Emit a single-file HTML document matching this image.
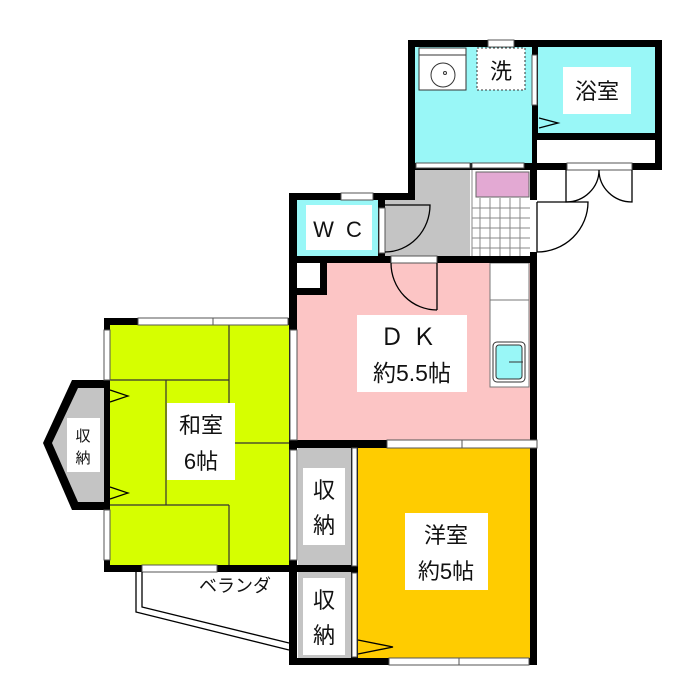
<!DOCTYPE html>
<html><head><meta charset="utf-8"><style>html,body{margin:0;padding:0;background:#fff}svg{display:block}text{font-family:"Liberation Sans","Noto Sans CJK JP",sans-serif;fill:#111}</style></head><body>
<svg width="700" height="700" viewBox="0 0 700 700" xmlns="http://www.w3.org/2000/svg">
<rect x="415" y="47" width="117" height="116" fill="#99f7f7"/>
<rect x="537" y="47" width="118" height="86" fill="#99f7f7"/>
<rect x="297" y="200" width="81" height="56" fill="#99f7f7"/>
<rect x="415" y="170" width="55" height="86" fill="#c4c4c4"/>
<rect x="385" y="198" width="85" height="58" fill="#c4c4c4"/>
<rect x="470" y="170" width="60" height="86" fill="#fff"/>
<g stroke="#888" stroke-width="1">
<line x1="480" y1="198" x2="480" y2="256"/><line x1="490" y1="198" x2="490" y2="256"/><line x1="500" y1="198" x2="500" y2="256"/><line x1="510" y1="198" x2="510" y2="256"/><line x1="520" y1="198" x2="520" y2="256"/>
<line x1="472" y1="208" x2="530" y2="208"/><line x1="472" y1="218" x2="530" y2="218"/><line x1="472" y1="228" x2="530" y2="228"/><line x1="472" y1="238" x2="530" y2="238"/><line x1="472" y1="248" x2="530" y2="248"/>
<line x1="472" y1="170" x2="472" y2="256"/>
</g>
<rect x="476" y="172" width="53" height="25" fill="#e3a9d3" stroke="#666"/>
<rect x="297" y="263" width="233" height="179" fill="#fcc5c5"/>
<rect x="297" y="263" width="25" height="27" fill="#fff"/>
<rect x="490" y="263" width="39" height="124" fill="#fff" stroke="#777"/>
<line x1="490" y1="300" x2="529" y2="300" stroke="#777"/>
<rect x="493" y="342" width="32" height="40" rx="4" fill="#fff" stroke="#333"/>
<rect x="496" y="345" width="26" height="34" rx="3" fill="#99f7f7" stroke="#333"/>
<line x1="509" y1="362" x2="523" y2="362" stroke="#333"/>
<rect x="110" y="325" width="180" height="240" fill="#d6ff00"/>
<g stroke="#333" stroke-width="1.2" fill="none">
<line x1="229" y1="325" x2="229" y2="443"/><line x1="229" y1="443" x2="290" y2="443"/>
<line x1="110" y1="380" x2="229" y2="380"/><line x1="166" y1="380" x2="166" y2="505"/>
<line x1="110" y1="505" x2="229" y2="505"/><line x1="229" y1="505" x2="229" y2="565"/>
</g>
<rect x="298" y="448" width="53" height="117" fill="#c4c4c4"/>
<rect x="298" y="572" width="53" height="86" fill="#c4c4c4"/>
<rect x="358" y="448" width="172" height="210" fill="#ffcc00"/>
<polygon points="72,380 110,380 110,510 72,510 43,443" fill="#000"/>
<polygon points="78,388 106,388 106,502 78,502 52,443" fill="#c4c4c4"/>
<g fill="#000">
<rect x="408" y="40" width="254" height="7"/>
<rect x="408" y="40" width="7" height="160"/>
<rect x="532" y="40" width="6" height="130"/>
<rect x="655" y="40" width="7" height="130"/>
<rect x="537" y="133" width="125" height="7"/>
<rect x="408" y="163" width="254" height="7"/>
<rect x="289" y="193" width="126" height="7"/>
<rect x="289" y="193" width="8" height="472"/>
<rect x="378" y="193" width="7" height="70"/>
<rect x="289" y="256" width="248" height="7"/>
<rect x="530" y="163" width="7" height="37"/>
<rect x="530" y="252" width="7" height="413"/>
<rect x="320" y="263" width="7" height="32"/>
<rect x="297" y="288" width="30" height="7"/>
<rect x="104" y="318" width="193" height="7"/>
<rect x="104" y="318" width="6" height="254"/>
<rect x="104" y="565" width="193" height="7"/>
<rect x="289" y="440" width="248" height="8"/>
<rect x="351" y="440" width="7" height="225"/>
<rect x="289" y="565" width="69" height="7"/>
<rect x="289" y="658" width="248" height="7"/>
</g>
<g fill="#fff" stroke="#555" stroke-width="1">
<rect x="488" y="40" width="26" height="7"/>
<rect x="537" y="140" width="118" height="23" stroke="none"/>
<rect x="567" y="163" width="65" height="7"/>
<rect x="532" y="55" width="5" height="50"/>
<rect x="416" y="163" width="54" height="5"/>
<rect x="472" y="163" width="52" height="5"/>
<rect x="341" y="193" width="32" height="7"/>
<rect x="379" y="208" width="6" height="45"/>
<rect x="391" y="256" width="46" height="7"/>
<rect x="138" y="318" width="75" height="7"/><rect x="213" y="318" width="75" height="7"/>
<rect x="104" y="330" width="6" height="50"/><rect x="104" y="510" width="6" height="50"/>
<rect x="290" y="330" width="7" height="110"/>
<rect x="290" y="450" width="7" height="110"/>
<rect x="387" y="440" width="75" height="8"/><rect x="462" y="440" width="75" height="8"/>
<rect x="142" y="565" width="75" height="7"/>
<rect x="389" y="658" width="70" height="7"/><rect x="459" y="658" width="70" height="7"/>
<rect x="352" y="448" width="5" height="118"/>
<rect x="352" y="573" width="5" height="84"/>
<rect x="530" y="200" width="7" height="52" stroke="none"/>
</g>
<g fill="none" stroke="#000" stroke-width="1.3">
<path d="M385 205 H430 A45 47 0 0 1 385 252"/>
<path d="M437 310 V263 M391 263 A46 47 0 0 0 437 310"/>
<path d="M537 202 H588 A51 50 0 0 1 537 252 M537 202 V252"/>
<path d="M566 170 V202 A33 32 0 0 0 599 170 M632 170 V202 A33 32 0 0 1 599 170"/>
<path d="M539 118 L558 123 L539 128"/>
<path d="M110 390 L128 396 L110 402"/><path d="M110 487 L128 493 L110 499"/>
<path d="M358 640 L393 647 L358 654"/>
<path d="M136 572 V612 L289 650 M142 572 V607 L289 643"/>
</g>
<rect x="419" y="48" width="47" height="42" fill="#fff" stroke="#333"/>
<line x1="419" y1="55" x2="466" y2="55" stroke="#333"/>
<circle cx="443" cy="75" r="12" fill="none" stroke="#333"/>
<circle cx="445" cy="73" r="1.5" fill="none" stroke="#333"/>
<rect x="477" y="48" width="48" height="42" fill="#fff" stroke="#333" stroke-dasharray="2,2"/>
<g fill="#fff">
<rect x="563" y="67" width="68" height="47"/>
<rect x="306" y="205" width="66" height="45"/>
<rect x="357" y="315" width="110" height="77"/>
<rect x="167" y="403" width="68" height="77"/>
<rect x="67" y="418" width="33" height="54"/>
<rect x="303" y="468" width="42" height="77"/>
<rect x="303" y="578" width="42" height="77"/>
<rect x="405" y="513" width="83" height="77"/>
</g>
<g font-size="22" text-anchor="middle">
<text x="501" y="79">洗</text>
<text x="597" y="99">浴室</text>
<text x="339" y="237" font-size="22" letter-spacing="3">W C</text>
<text x="412" y="345" font-size="24" letter-spacing="8">ＤＫ</text>
<text x="412" y="381" font-size="23">約5.5帖</text>
<text x="201" y="433">和室</text>
<text x="201" y="469">6帖</text>
<text x="83" y="441" font-size="15">収</text>
<text x="83" y="463" font-size="15">納</text>
<text x="324" y="498">収</text>
<text x="324" y="533">納</text>
<text x="324" y="608">収</text>
<text x="324" y="643">納</text>
<text x="446" y="543">洋室</text>
<text x="446" y="579">約5帖</text>
<text x="235" y="592" font-size="18">ベランダ</text>
</g>
</svg>
</body></html>
